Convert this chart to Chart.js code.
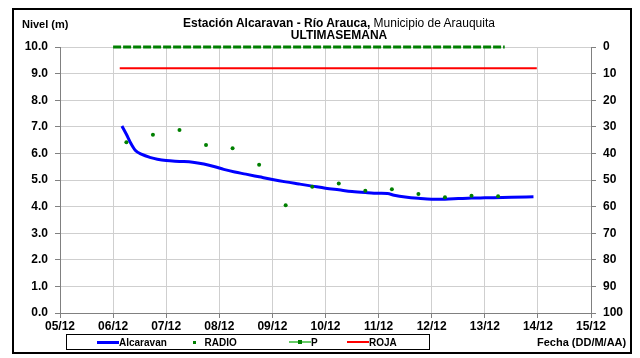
<!DOCTYPE html>
<html>
<head>
<meta charset="utf-8">
<script src="https://cdn.jsdelivr.net/npm/chart.js@4.4.0/dist/chart.umd.min.js"></script>
<style>
  body { margin: 0; background: #fff; }
  #wrap { position: relative; width: 640px; height: 358px; font-family: 'Liberation Sans', Arial, sans-serif; color: #000; }
  #frame { position: absolute; left: 12px; top: 8px; width: 620px; height: 346px; border: 2px solid #000; box-sizing: border-box; }
  #chart { position: absolute; left: 0; top: 0; }
  .txt { position: absolute; white-space: nowrap; font-size: 11px; line-height: 13px; }
  #title { left: 89px; width: 500px; top: 17px; text-align: center; font-size: 12px; line-height: 12px; }
  #legend { position: absolute; left: 66px; top: 334px; width: 364px; height: 16px; border: 1px solid #000; box-sizing: border-box; font-size: 10px; font-weight: bold; }
  .item { position: absolute; top: 1px; line-height: 13px; }
  .sw { display: inline-block; vertical-align: middle; position: relative; width: 22px; height: 3px; margin-top: -2px; }
</style>
</head>
<body>
<div id="wrap">
  <div id="frame"></div>
  <canvas id="chart" width="640" height="358"></canvas>
  <div class="txt" style="left:22px; top:18px; font-weight:bold;">Nivel (m)</div>
  <div class="txt" id="title"><b>Estación Alcaravan - Río Arauca,</b> Municipio de Arauquita<br><b>ULTIMASEMANA</b></div>
  <div id="legend">
    <div class="item" style="left:30px;"><span class="sw" style="background:#0000ff;"></span>Alcaravan</div>
    <div class="item" style="left:124px;"><span class="sw" style="width:8px; height:3px;"><span style="position:absolute; left:2px; top:0; width:3px; height:3px; background:#008000;"></span></span>&nbsp; RADIO</div>
    <div class="item" style="left:222px;"><span class="sw" style="background:#66cc66; height:2px;"><span style="position:absolute; left:9px; top:-1px; width:4px; height:4px; background:#008000;"></span></span>P</div>
    <div class="item" style="left:280px;"><span class="sw" style="background:#ff0000; height:2px;"></span>ROJA</div>
  </div>
  <div class="txt" style="left:537px; top:336px; font-weight:bold;">Fecha (DD/M/AA)</div>
</div>
<script>
const xTickLabels = ['05/12', '06/12', '07/12', '08/12', '09/12', '10/12', '11/12', '12/12', '13/12', '14/12', '15/12'];

const alcaravanTimes = [
  '06/12 04:00', '06/12 06:00', '06/12 08:00', '06/12 10:00', '06/12 13:00', '06/12 17:00', '06/12 20:00',
  '07/12 00:00', '07/12 06:00', '07/12 12:00', '07/12 17:00', '07/12 22:00',
  '08/12 02:00', '08/12 07:00', '08/12 12:00', '08/12 18:00',
  '09/12 00:00', '09/12 06:00', '09/12 12:00', '09/12 18:00',
  '10/12 00:00', '10/12 06:00', '10/12 12:00', '10/12 18:00',
  '11/12 00:00', '11/12 04:00', '11/12 07:00', '11/12 12:00', '11/12 18:00',
  '12/12 00:00', '12/12 06:00', '12/12 12:00', '12/12 18:00',
  '13/12 00:00', '13/12 12:00', '13/12 22:00'
];
const alcaravanValues = [
  7.03, 6.72, 6.38, 6.12, 5.96, 5.84, 5.78,
  5.73, 5.70, 5.67, 5.60, 5.50,
  5.40, 5.30, 5.22, 5.12,
  5.02, 4.93, 4.85, 4.77,
  4.69, 4.63, 4.57, 4.53,
  4.50, 4.49, 4.43, 4.36, 4.31,
  4.28, 4.28, 4.30, 4.32,
  4.33, 4.35, 4.37
];

const radioTimes = [
  '06/12 06:00', '06/12 18:00', '07/12 06:00', '07/12 18:00', '08/12 06:00', '08/12 18:00',
  '09/12 06:00', '09/12 18:00', '10/12 06:00', '10/12 18:00', '11/12 06:00', '11/12 18:00',
  '12/12 06:00', '12/12 18:00', '13/12 06:00'
];
const radioValues = [6.42, 6.70, 6.88, 6.32, 6.19, 5.57, 4.05, 4.75, 4.87, 4.60, 4.65, 4.47, 4.35, 4.41, 4.39];

const pTimes = ['06/12 00:00', '13/12 09:00'];
const pValues = [0, 0];

const rojaTimes = ['06/12 03:00', '13/12 23:30'];
const rojaValues = [9.2, 9.2];

// days since 05/12 00:00
function toDay(s) {
  const [d, t] = s.split(' ');
  const dd = parseInt(d.split('/')[0], 10);
  const [hh, mm] = t.split(':').map(Number);
  return (dd - 5) + hh / 24 + mm / 1440;
}
const pts = (times, vals) => times.map((t, i) => ({ x: toDay(t), y: vals[i] }));

const tickFont = { family: "'Liberation Sans', Arial, sans-serif", size: 12, weight: 'bold' };
const gridColor = '#cfcfcf';
const axisColor = '#808080';

new Chart(document.getElementById('chart'), {
  type: 'line',
  data: {
    datasets: [
      {
        label: 'Alcaravan',
        data: pts(alcaravanTimes, alcaravanValues),
        borderColor: '#0000ff',
        borderWidth: 3,
        pointRadius: 0,
        cubicInterpolationMode: 'monotone',
        yAxisID: 'y',
        order: 2
      },
      {
        label: 'RADIO',
        data: pts(radioTimes, radioValues),
        showLine: false,
        pointRadius: 2,
        pointBackgroundColor: '#008000',
        pointBorderColor: '#008000',
        pointBorderWidth: 0,
        yAxisID: 'y',
        order: 1
      },
      {
        label: 'P',
        data: pts(pTimes, pValues),
        borderColor: '#008000',
        borderWidth: 3,
        borderDash: [8, 2],
        pointRadius: 0,
        yAxisID: 'y2',
        clip: false,
        order: 3
      },
      {
        label: 'ROJA',
        data: pts(rojaTimes, rojaValues),
        borderColor: '#ff0000',
        borderWidth: 2,
        pointRadius: 0,
        yAxisID: 'y',
        order: 4
      }
    ]
  },
  options: {
    responsive: false,
    animation: false,
    layout: { padding: { top: 47, left: 0, right: 0, bottom: 0 } },
    plugins: {
      legend: { display: false },
      tooltip: { enabled: false }
    },
    scales: {
      x: {
        type: 'linear',
        min: 0,
        max: 10,
        afterFit: s => { s.height = 45; },
        ticks: {
          stepSize: 1,
          autoSkip: false,
          maxRotation: 0,
          padding: 1,
          color: '#000',
          font: tickFont,
          callback: (v) => xTickLabels[Math.round(v)]
        },
        grid: { color: gridColor, lineWidth: 1, tickLength: 5, tickColor: axisColor },
        border: { color: axisColor, width: 1 }
      },
      y: {
        position: 'left',
        min: 0,
        max: 10,
        afterFit: s => { s.width = 60; },
        ticks: {
          stepSize: 1,
          padding: 7,
          color: '#000',
          font: tickFont,
          callback: v => v.toFixed(1)
        },
        grid: { color: gridColor, lineWidth: 1, tickLength: 5, tickColor: axisColor },
        border: { color: axisColor, width: 1 }
      },
      y2: {
        position: 'right',
        min: 0,
        max: 100,
        reverse: true,
        afterFit: s => { s.width = 49; },
        ticks: {
          stepSize: 10,
          padding: 7,
          color: '#000',
          font: tickFont
        },
        grid: { drawOnChartArea: false, tickLength: 5, tickColor: axisColor },
        border: { color: axisColor, width: 1 }
      }
    }
  }
});
</script>
</body>
</html>
